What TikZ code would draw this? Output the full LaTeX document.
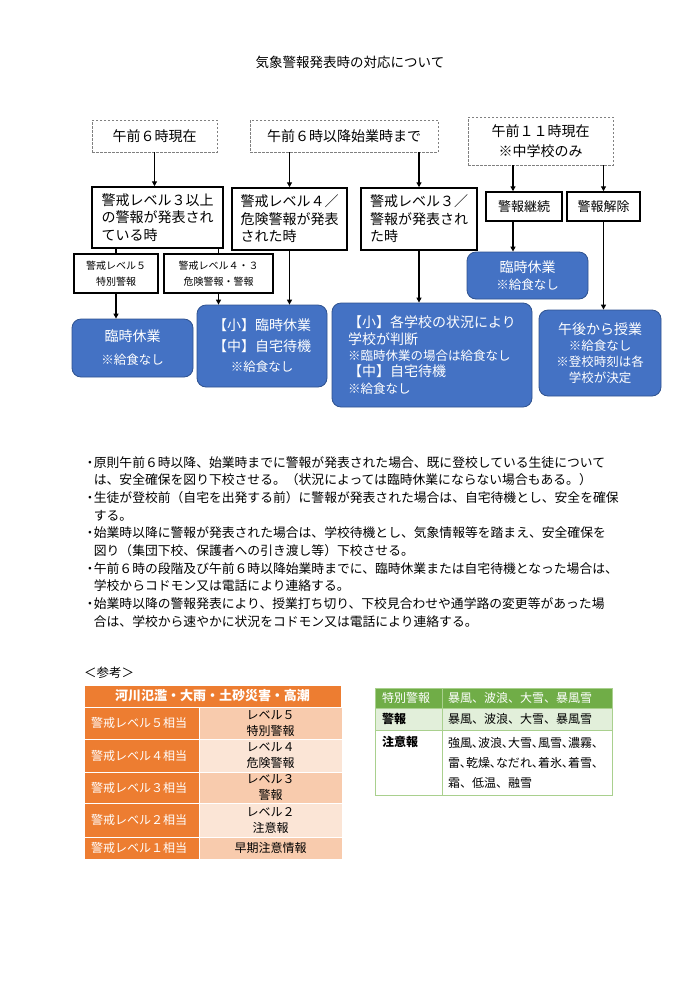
\documentclass[tikz,border=0pt]{standalone}
\usepackage{fontspec}
\setmainfont{Noto Sans CJK JP}
\newfontfamily\paltjp{Noto Sans CJK JP}[RawFeature=+palt]
\usetikzlibrary{arrows.meta, positioning}

\definecolor{wxblue}{HTML}{4472C4}
\definecolor{wxblueline}{HTML}{2F528F}
\definecolor{wxorange}{HTML}{ED7D31}
\definecolor{wxpeach}{HTML}{F8CBAD}
\definecolor{wxpeachlight}{HTML}{FBE5D6}
\definecolor{wxgreen}{HTML}{70AD47}
\definecolor{wxgreenlight}{HTML}{E2EFDA}
\definecolor{wxgreenline}{HTML}{A9D08E}

\newcommand{\jpsize}[2]{\fontsize{#1}{#2}\selectfont}
\newcommand{\notesize}{\fontsize{12.5}{15}\selectfont}
\newcommand{\bulletmark}{\makebox[0.6em]{・}}
\newcommand{\contindent}{\hspace*{0.6em}}

\begin{document}
\begin{tikzpicture}[
    x=1pt, y=-1pt,
    >={Triangle[length=5pt, width=5pt]},
    arr/.style={->, line width=1.3pt},
    dashbox/.style={draw=black!50, dash pattern=on 2.5pt off 1.5pt, line width=0.7pt, align=center, inner sep=0pt, font=\jpsize{14}{20}},
    box/.style={draw, line width=1.5pt, align=left, inner sep=0pt, font=\jpsize{14}{17.5}},
    smallbox/.style={draw, line width=1.3pt, align=center, inner sep=0pt, font=\jpsize{10}{15.5}},
    bluebox/.style={draw=wxblueline, fill=wxblue, rounded corners=9pt, text=white, line width=0.8pt, align=center, inner sep=0pt, font=\jpsize{14}{17}},
    lcell/.style={fill=wxorange, draw=white, line width=1pt, outer sep=0pt, text=white, anchor=north west, minimum width=115pt, align=left, inner xsep=7pt, text width=101pt, font=\jpsize{12}{16}},
    rcell/.style={draw=white, line width=1pt, outer sep=0pt, minimum width=143pt, align=center, inner sep=0pt, font=\jpsize{12}{16}},
    gcell/.style={draw=wxgreenline, line width=0.6pt, outer sep=0pt, minimum width=67pt, align=left, inner xsep=7pt, inner ysep=2pt, text width=53pt, font=\jpsize{12}{20}},
    gcellwide/.style={gcell, minimum width=170pt, inner xsep=6pt, text width=158pt}
]

\fill[white] (0,0) rectangle (700,989);
\useasboundingbox (0,0) rectangle (700,989);

% TITLE
\node[font=\jpsize{13.5}{16}] (title) at (350,62) {気象警報発表時の対応について};

% TOP ROW: time of the announcement
\node[dashbox, minimum width=125pt, minimum height=32pt] (t1) at (154.5,136) {午前６時現在};
\node[dashbox, minimum width=188pt, minimum height=32pt] (t2) at (344,136) {午前６時以降始業時まで};
\node[dashbox, minimum width=145pt, minimum height=48pt] (t3) at (540.5,141) {午前１１時現在\\※中学校のみ};

% SECOND ROW: warning level
\node[box, minimum width=131pt, minimum height=61pt] (b1) at (157.5,217.5) {警戒レベル３以上\\の警報が発表され\\ている時};
\node[box, minimum width=115pt, minimum height=62pt] (b2) at (289.5,219) {警戒レベル４／\\危険警報が発表\\された時};
\node[box, minimum width=116pt, minimum height=62pt] (b3) at (419,219) {警戒レベル３／\\警報が発表され\\た時};
\node[box, align=center, font=\jpsize{13}{16}, minimum width=76pt, minimum height=29pt] (k1) at (524,206.5) {警報継続};
\node[box, align=center, font=\jpsize{13}{16}, minimum width=73pt, minimum height=29pt] (k2) at (603.5,206.5) {警報解除};

\node[smallbox, minimum width=84pt, minimum height=39pt] (s1) at (116,273.5) {警戒レベル５\\特別警報};
\node[smallbox, minimum width=109pt, minimum height=39pt] (s2) at (218.5,273.5) {警戒レベル４・３\\危険警報・警報};

% RESULT: what the schools do
\node[bluebox, font=\jpsize{14}{23}, minimum width=121pt, minimum height=58pt] (g1) at (132.5,348) {臨時休業\\{\notesize ※給食なし}};
\node[bluebox, font=\jpsize{14}{20.5}, minimum width=130pt, minimum height=82pt] (g2) at (262,346) {【小】臨時休業\\【中】自宅待機\\{\notesize ※給食なし}};
\node[bluebox, align=left, font=\jpsize{14}{16.3}, minimum width=200pt, minimum height=104pt] (g3) at (432,355) {【小】各学校の状況により\\学校が判断\\{\notesize ※臨時休業の場合は給食なし}\\【中】自宅待機\\{\notesize ※給食なし}};
\node[bluebox, minimum width=121pt, minimum height=47pt] (g4) at (527.5,275.5) {臨時休業\\{\notesize ※給食なし}};
\node[bluebox, font=\jpsize{14}{16}, minimum width=122pt, minimum height=86pt] (g5) at (600,353) {午後から授業\\{\notesize ※給食なし}\\{\notesize ※登校時刻は各}\\{\notesize 学校が決定}};

% CONNECTORS
\coordinate (k1in) at ([xshift=-11pt]k1.north);
\draw[arr] (t1.south) -- (t1.south |- b1.north);
\draw[arr] (t2.south -| b2.north) -- (b2.north);
\draw[arr] (t2.south -| b3.north) -- (b3.north);
\draw[arr] (t3.south -| k1in) -- (k1in);
\draw[arr] (t3.south -| k2.north) -- (k2.north);
\draw[line width=1.3pt] (b1.south -| s1.north) -- (s1.north);
\draw[line width=1.3pt] (b1.south -| s2.north) -- (s2.north);
\draw[arr] (s1.south) -- (s1.south |- g1.north);
\draw[arr] (s2.south) -- (s2.south |- g2.north);
\draw[arr] (b2.south) -- (b2.south |- g2.north);
\draw[arr] (b3.south) -- (b3.south |- g3.north);
\draw[arr] (k1in |- k1.south) -- (k1in |- g4.north);
\draw[arr] (k2.south) -- (k2.south |- g5.north);

% NOTES
\node[anchor=north west, align=left, inner sep=0pt, font=\jpsize{12.8}{17.7}] (notes) at (86,456) {%
\bulletmark 原則午前６時以降、始業時までに警報が発表された場合、既に登校している生徒について\\
\contindent は、安全確保を図り下校させる。（状況によっては臨時休業にならない場合もある。）\\
\bulletmark 生徒が登校前（自宅を出発する前）に警報が発表された場合は、自宅待機とし、安全を確保\\
\contindent する。\\
\bulletmark 始業時以降に警報が発表された場合は、学校待機とし、気象情報等を踏まえ、安全確保を\\
\contindent 図り（集団下校、保護者への引き渡し等）下校させる。\\
\bulletmark 午前６時の段階及び午前６時以降始業時までに、臨時休業または自宅待機となった場合は、\\
\contindent 学校からコドモン又は電話により連絡する。\\
\bulletmark 始業時以降の警報発表により、授業打ち切り、下校見合わせや通学路の変更等があった場\\
\contindent 合は、学校から速やかに状況をコドモン又は電話により連絡する。};

% REFERENCE TABLE: warning levels
\node[anchor=west, inner sep=0pt, font=\jpsize{12.5}{15}] (refmark) at (84,673) {＜参考＞};
\node[fill=wxorange, draw=white, line width=1pt, text=white, minimum width=257pt, minimum height=22pt, inner sep=0pt, font=\jpsize{13}{16}\bfseries] (rhead) at (212.5,696) {河川氾濫・大雨・土砂災害・高潮};

\node[lcell, minimum height=32pt] (l5) at (84,707) {警戒レベル５相当};
\node[rcell, fill=wxpeach, minimum height=32pt, right=0pt of l5] (r5) {レベル５\\特別警報};
\node[lcell, minimum height=33pt] (l4) at (84,739) {警戒レベル４相当};
\node[rcell, fill=wxpeachlight, minimum height=33pt, right=0pt of l4] (r4) {レベル４\\危険警報};
\node[lcell, minimum height=31pt] (l3) at (84,772) {警戒レベル３相当};
\node[rcell, fill=wxpeach, minimum height=31pt, right=0pt of l3] (r3) {レベル３\\警報};
\node[lcell, minimum height=34pt] (l2) at (84,803) {警戒レベル２相当};
\node[rcell, fill=wxpeachlight, minimum height=34pt, right=0pt of l2] (r2) {レベル２\\注意報};
\node[lcell, minimum height=22pt] (l1) at (84,837) {警戒レベル１相当};
\node[rcell, fill=wxpeach, minimum height=22pt, right=0pt of l1] (r1) {早期注意情報};

% REFERENCE TABLE: kinds of warning
\node[gcell, fill=wxgreen, text=white, anchor=north west, minimum height=20pt] (gh1) at (375,688) {特別警報};
\node[gcellwide, fill=wxgreen, text=white, minimum height=20pt, right=0pt of gh1] (gh2) {暴風、波浪、大雪、暴風雪};
\node[gcell, fill=wxgreenlight, minimum height=22pt, below=0pt of gh1, font=\jpsize{12}{20}\bfseries] (gw1) {警報};
\node[gcellwide, fill=wxgreenlight, minimum height=22pt, right=0pt of gw1] (gw2) {暴風、波浪、大雪、暴風雪};
\node[gcell, fill=white, minimum height=65pt, text height=14pt, text depth=47pt, below=0pt of gw1, font=\jpsize{12}{20}\bfseries] (ga1) {注意報};
\node[gcellwide, fill=white, minimum height=65pt, right=0pt of ga1] (ga2) {{\paltjp 強風、波浪、大雪、風雪、濃霧、}\\{\paltjp 雷、乾燥、なだれ、着氷、着雪、}\\霜、低温、融雪};

\end{tikzpicture}
\end{document}
